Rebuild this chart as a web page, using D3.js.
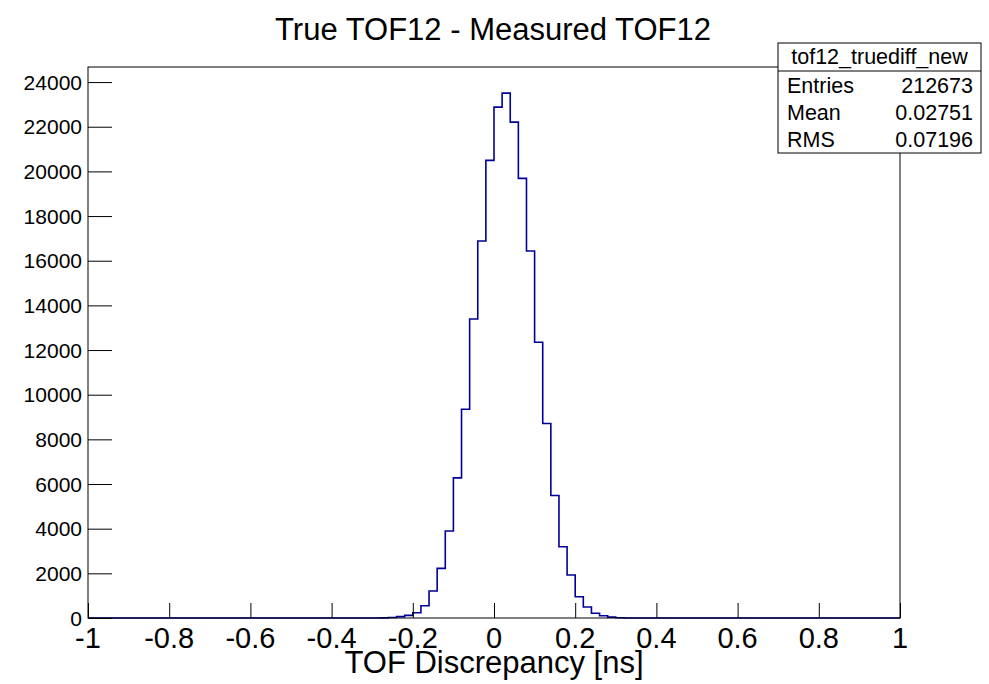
<!DOCTYPE html>
<html>
<head>
<meta charset="utf-8">
<script src="https://cdn.jsdelivr.net/npm/d3@7"></script>
<style>
  html, body { margin: 0; padding: 0; background: #fff; }
  svg { display: block; }
  text { font-family: "Liberation Sans", Arial, Helvetica, sans-serif; fill: #000; }
</style>
</head>
<body>
<svg id="chart" width="989" height="684"></svg>
<script>
// ---- data ----
const binLeft = [-0.28, -0.26, -0.24, -0.22, -0.20, -0.18, -0.16, -0.14, -0.12, -0.10,
                 -0.08, -0.06, -0.04, -0.02, 0.00, 0.02, 0.04, 0.06, 0.08, 0.10,
                 0.12, 0.14, 0.16, 0.18, 0.20, 0.22, 0.24, 0.26, 0.28, 0.30];
const counts  = [5, 20, 60, 119, 237, 551, 1208, 2223, 3893, 6277,
                 9351, 13392, 16882, 20492, 22877, 23503, 22206, 19687, 16434, 12349,
                 8710, 5488, 3191, 1924, 954, 492, 210, 103, 40, 10];
const binWidth = 0.02;
const xDomain = [-1, 1];
const yDomain = [0, 24675];
const xTickValues = [-1, -0.8, -0.6, -0.4, -0.2, 0, 0.2, 0.4, 0.6, 0.8, 1];
const yTickValues = [0, 2000, 4000, 6000, 8000, 10000, 12000, 14000, 16000, 18000, 20000, 22000, 24000];
const titleText = "True TOF12 - Measured TOF12";
const xTitleText = "TOF Discrepancy [ns]";
const statsName = "tof12_truediff_new";
const statsLabels = ["Entries", "Mean", "RMS"];
const statsValues = ["212673", "0.02751", "0.07196"];

// ---- layout ----
const L = 88, R = 900, T = 67, B = 618;
const svg = d3.select("#chart");
const x = d3.scaleLinear().domain(xDomain).range([L, R]);
const y = d3.scaleLinear().domain(yDomain).range([B, T]);

// histogram
const pts = [[xDomain[0], 0]];
binLeft.forEach((b, i) => pts.push([b, counts[i]]));
pts.push([binLeft[binLeft.length - 1] + binWidth, 0]);
pts.push([xDomain[1], 0]);
const line = d3.line().x(d => x(d[0])).y(d => y(d[1])).curve(d3.curveStepAfter);
svg.append("path").attr("d", line(pts)).attr("fill", "none")
   .attr("stroke", "#000099").attr("stroke-width", 1.6);

// frame
svg.append("rect").attr("x", L).attr("y", T).attr("width", R - L).attr("height", B - T)
   .attr("fill", "none").attr("stroke", "#000").attr("stroke-width", 1);

// x axis ticks
const xMinor = d3.range(-1, 1.0001, 0.05).map(v => +v.toFixed(2));
const gx = svg.append("g").attr("transform", `translate(0,${B})`);
gx.call(d3.axisBottom(x).tickValues(xMinor).tickSize(-8).tickFormat(""));
gx.call(d3.axisBottom(x).tickValues(xTickValues).tickSize(-15).tickFormat(""));
gx.selectAll(".domain").remove();
gx.selectAll("line").attr("stroke", "#000");

// y axis ticks
const yMinor = d3.range(0, 24501, 500);
const gy = svg.append("g").attr("transform", `translate(${L},0)`);
gy.call(d3.axisLeft(y).tickValues(yMinor).tickSize(-12).tickFormat(""));
gy.call(d3.axisLeft(y).tickValues(yTickValues).tickSize(-24).tickFormat(""));
gy.selectAll(".domain").remove();
gy.selectAll("line").attr("stroke", "#000");

// x tick labels
const fmtX = v => String(+v.toFixed(1));
svg.append("g").selectAll("text").data(xTickValues).join("text")
   .attr("x", d => x(d)).attr("y", 648)
   .attr("text-anchor", "middle").attr("font-size", 29).text(fmtX);

// y tick labels
svg.append("g").selectAll("text").data(yTickValues).join("text")
   .attr("x", 82).attr("y", d => y(d) + 7.5)
   .attr("text-anchor", "end").attr("font-size", 21).text(d => String(d));

// title
svg.append("text").attr("x", 493).attr("y", 40)
   .attr("text-anchor", "middle").attr("font-size", 31).text(titleText);

// x title
svg.append("text").attr("x", 494).attr("y", 673)
   .attr("text-anchor", "middle").attr("font-size", 31).text(xTitleText);

// stats box
const sb = {x0: 778, x1: 981, y0: 43, y1: 153, ySep: 71};
svg.append("rect").attr("x", sb.x0).attr("y", sb.y0).attr("width", sb.x1 - sb.x0)
   .attr("height", sb.y1 - sb.y0).attr("fill", "#fff").attr("stroke", "#000");
svg.append("line").attr("x1", sb.x0).attr("x2", sb.x1).attr("y1", sb.ySep).attr("y2", sb.ySep)
   .attr("stroke", "#000");
svg.append("text").attr("x", (sb.x0 + sb.x1) / 2).attr("y", 64)
   .attr("text-anchor", "middle").attr("font-size", 21.5).text(statsName);
const rowY = [92.5, 119.5, 146.5];
statsLabels.forEach((s, i) => {
  svg.append("text").attr("x", 787).attr("y", rowY[i]).attr("font-size", 21.5).text(s);
  svg.append("text").attr("x", 973).attr("y", rowY[i]).attr("text-anchor", "end")
     .attr("font-size", 21.5).text(statsValues[i]);
});
</script>
</body>
</html>
